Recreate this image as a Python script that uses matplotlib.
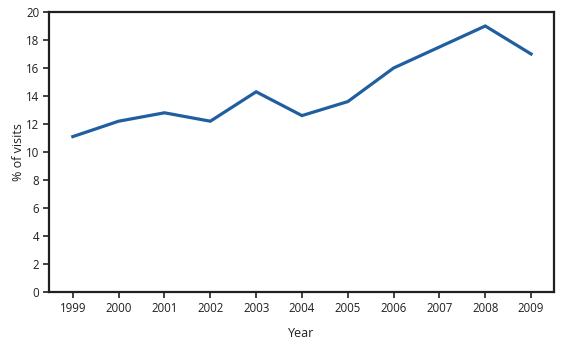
import matplotlib
matplotlib.use("Agg")
import matplotlib.pyplot as plt

# percentage of visits by year
years = [1999, 2000, 2001, 2002, 2003, 2004, 2005, 2006, 2007, 2008, 2009]
pct_visits = [11.1, 12.2, 12.8, 12.2, 14.3, 12.6, 13.6, 16.0, 17.5, 19.0, 17.0]

plt.rcParams['font.family'] = ['Open Sans', 'DejaVu Sans']
dark = '#231f20'

fig = plt.figure(figsize=(5.68, 3.41), dpi=100)
ax = fig.add_axes([49 / 568, 1 - 292 / 341, (554 - 49) / 568, (292 - 12) / 341])

ax.plot(years, pct_visits, color='#1f5fa0', linewidth=2.3, solid_joinstyle='miter')

ax.set_xlim(1998.48, 2009.5)
ax.set_ylim(0, 20)
ax.set_xticks(years)
ax.set_yticks(range(0, 21, 2))
ax.tick_params(direction='out', length=4, width=1.2, color=dark,
               labelsize=8.3, labelcolor=dark, pad=3)
for s in ax.spines.values():
    s.set_color(dark)
    s.set_linewidth(1.6)

ax.set_xlabel('Year', fontsize=9, color=dark, labelpad=9)
ax.set_ylabel('% of visits', fontsize=9, color=dark, labelpad=1)

fig.savefig('out.png', dpi=100)
